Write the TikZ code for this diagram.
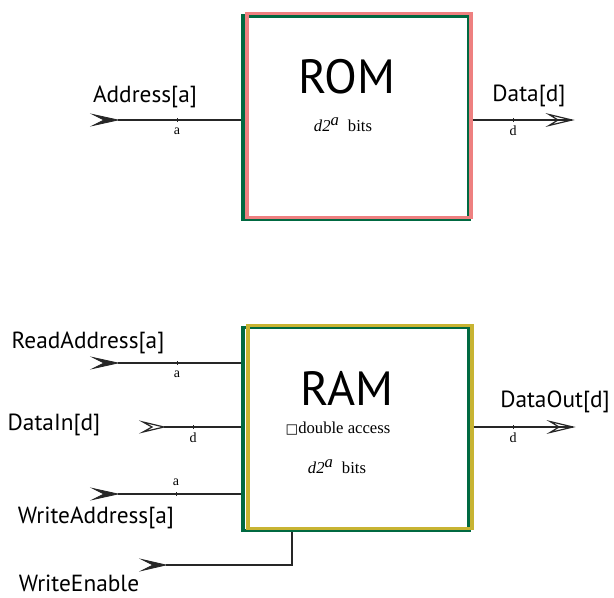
\documentclass[tikz,border=0pt]{standalone}
\usepackage{fontspec}
\setmainfont{Liberation Serif}
\newfontfamily\lab{PT Sans}
\newfontfamily\dvs{DejaVu Sans}
\definecolor{bgreen}{RGB}{0,105,65}
\definecolor{bpink}{RGB}{238,128,128}
\definecolor{byellow}{RGB}{200,180,50}
\tikzset{
  gbox/.style={draw=bgreen,line width=2.6pt,minimum width=169.5pt,minimum height=152.5pt,inner sep=0pt},
  cbox/.style={line width=2.4pt,minimum width=168pt,minimum height=152.5pt,inner sep=0pt},
  wire/.style={draw=black!85,line width=0.8pt},
  headfill/.style={fill=black!85,draw=black!85,line width=0.6pt,line join=miter},
  headopen/.style={fill=white,draw=black!85,line width=0.9pt,line join=miter},
  biglab/.style={font=\lab\fontsize{17.5}{20}\selectfont,inner sep=0pt},
  title/.style={font=\lab\fontsize{36}{40}\selectfont,inner sep=0pt},
  small/.style={font=\fontsize{12.5}{14}\selectfont,inner sep=0pt},
  tiny/.style={font=\fontsize{10.5}{12}\selectfont,inner sep=0pt},
  tick/.style={draw=black!85,line width=0.6pt}
}
\begin{document}
\begin{tikzpicture}[x=0.75pt,y=-0.75pt]
\useasboundingbox (0,0) rectangle (614,597);
% ROM
\node[gbox] (rom) at (356,117.5) {};
\node[cbox,draw=bpink] (rompink) at (359,115.5) {};
\node[title] (romt) at (347,77) {ROM};
\node[small] (rombits) at (343,125) {\textit{d2}$^{\textit{a}}$\ \ bits};
% Address input
\coordinate (adrs) at (118,120);
\draw[wire] (adrs) -- (adrs -| rom.west);
\path[headfill] (adrs) -- ++(-25,-5.5) -- ++(11,5.5) -- ++(-11,5.5) -- cycle;
\draw[tick] (177,118) -- (177,121.5);
\node[tiny] (adra) at (177,131) {a};
\node[biglab] (adrl) at (145,97) {Address[a]};
% Data output
\coordinate (dout) at (572,120);
\draw[wire] (dout -| rompink.east) -- (dout);
\path[headopen] (dout) -- ++(-23,-5.5) -- ++(9,5.5) -- ++(-9,5.5) -- cycle;
\draw[wire] (dout) -- ++(-14,0);
\draw[tick] (513,118) -- (513,121.5);
\node[tiny] (datad) at (513,131) {d};
\node[biglab] (datal) at (529,96) {Data[d]};
% RAM
\node[gbox] (ram) at (356,429) {};
\node[cbox,draw=byellow] (ramy) at (360,427) {};
\node[title] (ramt) at (347,388) {RAM};
\node[small] (ramda) at (338,429) {{\dvs\fontsize{10}{12}\selectfont □}double access};
\node[small] (rambits) at (337,467) {\textit{d2}$^{\textit{a}}$\ \ bits};
% ReadAddress
\coordinate (ras) at (118,363);
\draw[wire] (ras) -- (ras -| ram.west);
\path[headfill] (ras) -- ++(-25,-5.5) -- ++(11,5.5) -- ++(-11,5.5) -- cycle;
\draw[tick] (177,361) -- (177,364.5);
\node[tiny] (raa) at (177,374) {a};
\node[biglab] (ral) at (88,343) {ReadAddress[a]};
% DataIn
\coordinate (dis) at (164,427);
\draw[wire] (dis) -- (dis -| ram.west);
\path[headopen] (dis) -- ++(-21,-5) -- ++(9,5) -- ++(-9,5) -- cycle;
\draw[tick] (193,425) -- (193,428.5);
\node[tiny] (did) at (193,438) {d};
\node[biglab] (dil) at (54,425) {DataIn[d]};
% WriteAddress
\coordinate (was) at (118,494);
\draw[wire] (was) -- (was -| ram.west);
\path[headfill] (was) -- ++(-25,-5.5) -- ++(11,5.5) -- ++(-11,5.5) -- cycle;
\draw[tick] (176,492) -- (176,495.5);
\node[tiny] (waa) at (176,482) {a};
\node[biglab] (wal) at (96,518) {WriteAddress[a]};
% WriteEnable
\coordinate (wes) at (166,565);
\coordinate (wec) at (292,565);
\draw[wire] (wes) -- (wec) -- (wec |- ram.south);
\path[headfill] (wes) -- ++(-24,-5.5) -- ++(11,5.5) -- ++(-11,5.5) -- cycle;
\node[biglab] (wel) at (79,583) {WriteEnable};
% DataOut
\coordinate (rdo) at (573,427);
\draw[wire] (rdo -| ramy.east) -- (rdo);
\path[headopen] (rdo) -- ++(-23,-5.5) -- ++(9,5.5) -- ++(-9,5.5) -- cycle;
\draw[wire] (rdo) -- ++(-14,0);
\draw[tick] (513,425) -- (513,428.5);
\node[tiny] (dod) at (513,438) {d};
\node[biglab] (dol) at (555,402) {DataOut[d]};
\end{tikzpicture}
\end{document}
